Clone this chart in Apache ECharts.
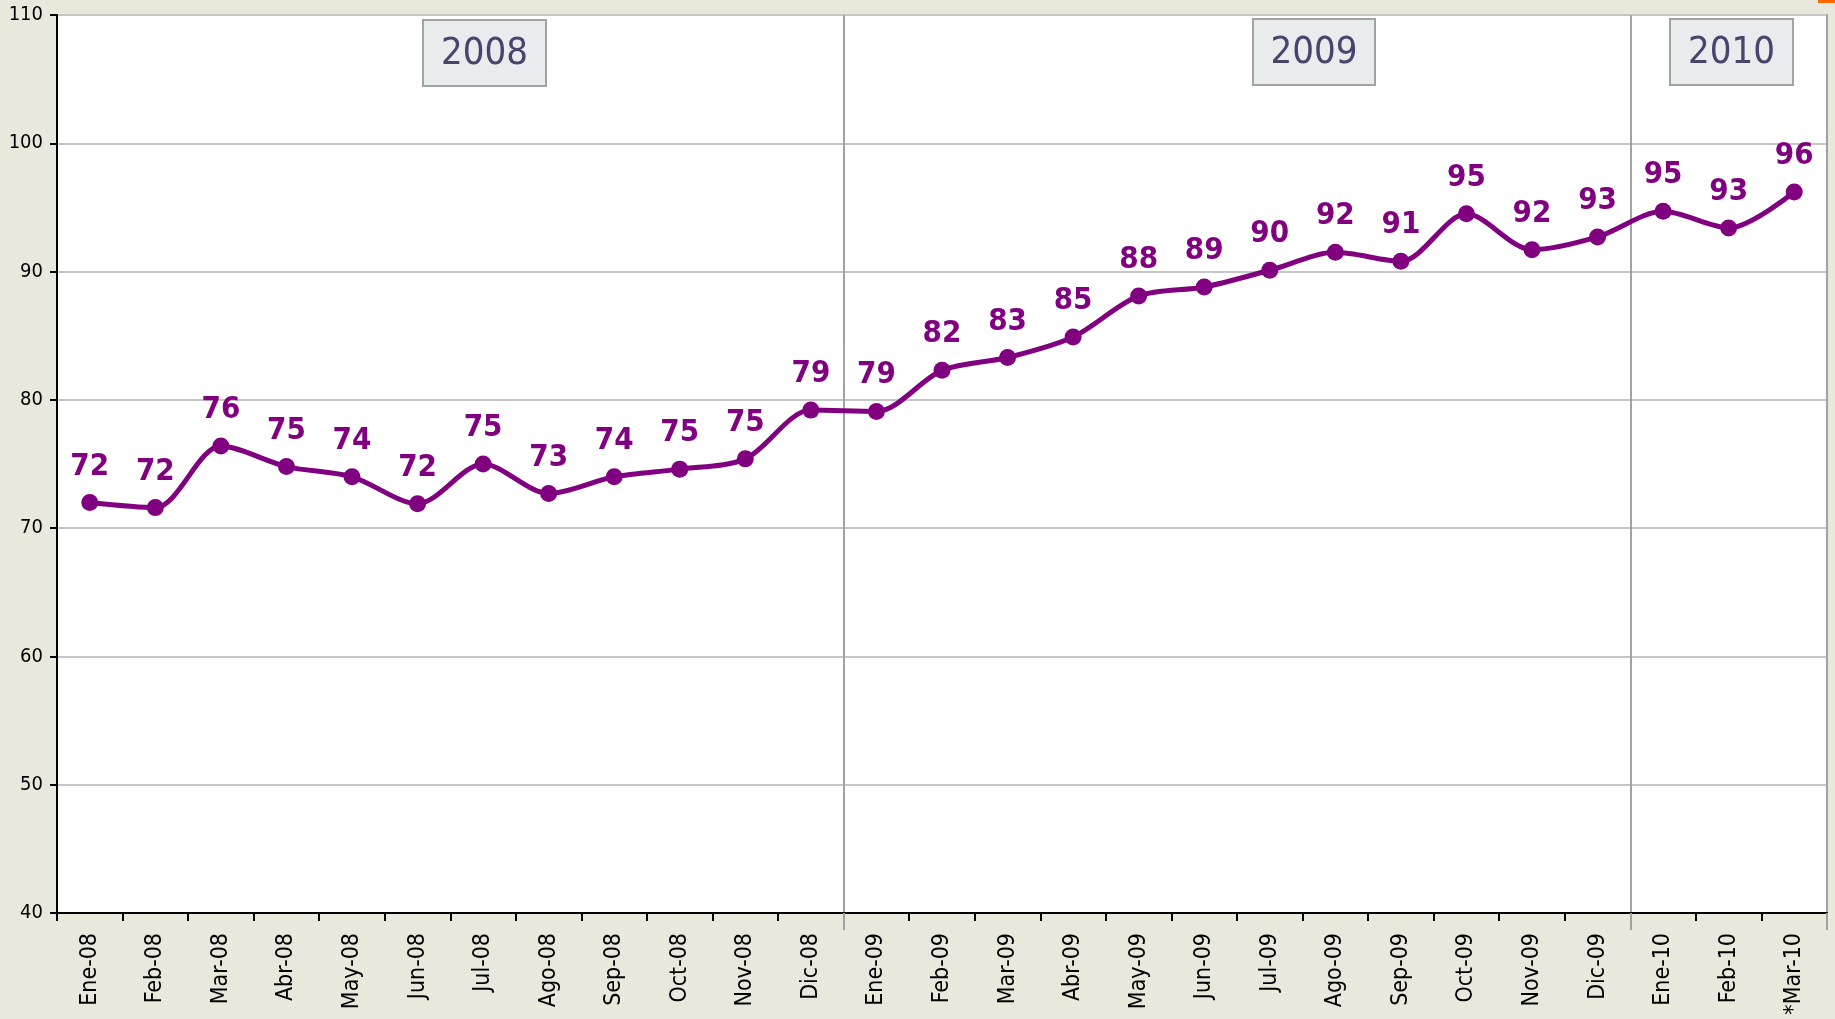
<!DOCTYPE html>
<html>
<head>
<meta charset="utf-8">
<script src="https://cdn.jsdelivr.net/npm/echarts@6/dist/echarts.min.js"></script>
<style>
html,body{margin:0;padding:0;background:#e9e8dd;}
#chart{width:1835px;height:1019px;}
</style>
</head>
<body>
<div id="chart"></div>
<script>
const categories = ["Ene-08","Feb-08","Mar-08","Abr-08","May-08","Jun-08","Jul-08","Ago-08","Sep-08","Oct-08","Nov-08","Dic-08",
  "Ene-09","Feb-09","Mar-09","Abr-09","May-09","Jun-09","Jul-09","Ago-09","Sep-09","Oct-09","Nov-09","Dic-09",
  "Ene-10","Feb-10","*Mar-10"];
const values = [72.0, 71.6, 76.4, 74.8, 74.0, 71.9, 75.0, 72.7, 74.0, 74.6, 75.4, 79.2,
  79.1, 82.3, 83.3, 84.9, 88.1, 88.8, 90.1, 91.5, 90.8, 94.5, 91.7, 92.7,
  94.7, 93.4, 96.2];
const yearLabels = ["2008", "2009", "2010"];
const yearStartIndex = [0, 12, 24];
const yTicks = {min: 40, max: 110, interval: 10};

const FONT = "DejaVu Sans Condensed, DejaVu Sans, sans-serif";
const PURPLE = "#800080";

const chart = echarts.init(document.getElementById('chart'), null, {renderer: 'canvas'});

function yearBox(text, x, y, w, h) {
  return {
    type: 'group',
    left: x, top: y,
    children: [
      {type: 'rect', shape: {x: 0, y: 0, width: w, height: h},
       style: {fill: '#e8eced', stroke: '#a2a2a2', lineWidth: 2}},
      {type: 'text', x: w / 2, y: h / 2 + 1,
       style: {text: text, font: '38px ' + FONT, fill: '#45456d', align: 'center', verticalAlign: 'middle'}}
    ]
  };
}

const option = {
  backgroundColor: '#e9e8dd',
  animation: false,
  grid: {
    left: 57, right: 8, top: 15, bottom: 106,
    show: true, backgroundColor: '#ffffff', borderColor: '#a2a2a2', borderWidth: 2
  },
  xAxis: [
    {
      type: 'category',
      data: categories,
      boundaryGap: true,
      axisLine: {lineStyle: {color: '#000', width: 2}},
      axisTick: {show: true, length: 8, lineStyle: {color: '#000', width: 2}},
      axisLabel: {rotate: 90, interval: 0, margin: 20, fontSize: 23, fontFamily: FONT, color: '#000'},
      splitLine: {
        show: true,
        interval: function (index) { return yearStartIndex.indexOf(index) > 0; },
        lineStyle: {color: '#a2a2a2', width: 2}
      }
    },
    {
      type: 'category',
      data: categories,
      position: 'bottom',
      boundaryGap: true,
      axisLine: {show: false},
      axisLabel: {show: false},
      axisTick: {
        show: true, length: 17,
        interval: function (index) { return yearStartIndex.indexOf(index) > 0; },
        lineStyle: {color: '#a2a2a2', width: 2}
      },
      splitLine: {show: false}
    }
  ],
  yAxis: {
    type: 'value',
    min: yTicks.min, max: yTicks.max, interval: yTicks.interval,
    axisLine: {show: true, lineStyle: {color: '#000', width: 2}},
    axisTick: {show: true, length: 7, lineStyle: {color: '#000', width: 2}},
    axisLabel: {margin: 14, fontSize: 20, fontFamily: FONT, color: '#000'},
    splitLine: {show: true, lineStyle: {color: '#c6c6c6', width: 2}}
  },
  series: [{
    type: 'line',
    data: values,
    smooth: 0.3,
    symbol: 'circle',
    symbolSize: 17,
    lineStyle: {color: PURPLE, width: 5},
    itemStyle: {color: PURPLE},
    label: {
      show: true, position: 'top', distance: 12,
      fontSize: 31, fontWeight: 'bold', fontFamily: FONT, color: PURPLE,
      formatter: function (p) { return String(Math.round(p.value)); }
    },
    z: 5
  }],
  graphic: [
    yearBox(yearLabels[0], 422, 19, 123, 66),
    yearBox(yearLabels[1], 1252, 18, 122, 66),
    yearBox(yearLabels[2], 1669, 18, 123, 66),
    {type: 'rect', left: 1818, top: 0, shape: {x: 0, y: 0, width: 17, height: 3}, style: {fill: '#ff6a00'}}
  ]
};
chart.setOption(option);
</script>
</body>
</html>
